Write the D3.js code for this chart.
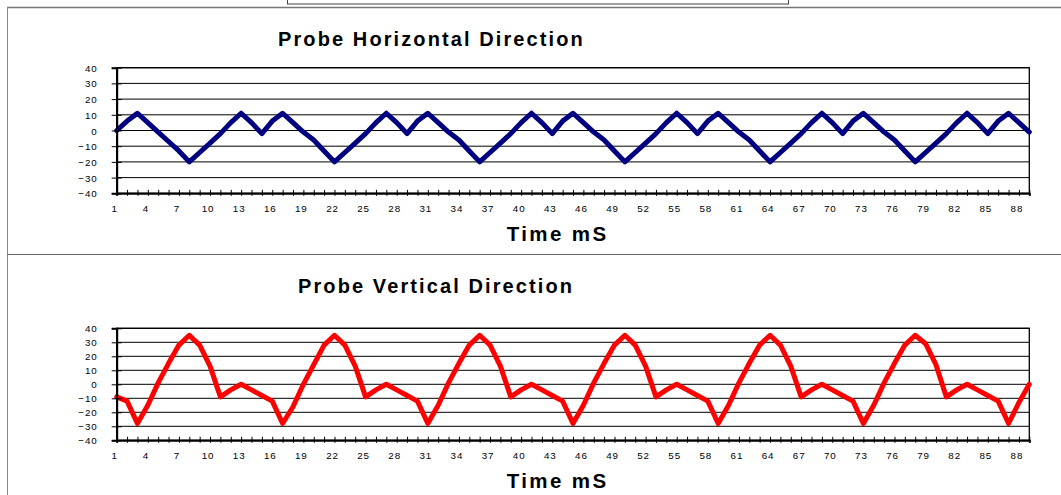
<!DOCTYPE html>
<html>
<head>
<meta charset="utf-8">
<script src="https://cdn.jsdelivr.net/npm/d3@7"></script>
<style>
  body { margin: 0; background: #fff; }
  svg { display: block; font-family: Arial, "Liberation Sans", sans-serif; }
  .tick text { font-size: 9.8px; letter-spacing: 0.9px; fill: #000; }
</style>
</head>
<body>
<svg width="1061" height="495"></svg>
<script>
const width = 1061,
      height = 495;

// time axis, one category per mS
const categories = d3.range(1, 90);
const xLabels = [1, 4, 7, 10, 13, 16, 19, 22, 25, 28, 31, 34, 37, 40, 43, 46, 49, 52, 55, 58, 61, 64, 67, 70, 73, 76, 79, 82, 85, 88];
const yTicks = [-40, -30, -20, -10, 0, 10, 20, 30, 40];

// probe readings
const horizontal = [
  0, 6, 11, 5, -1, -7, -13, -20, -14, -8, -2, 5, 11, 5,
  -2, 6, 11, 5, -1, -6, -13, -20, -14, -8, -2, 5, 11, 5,
  -2, 6, 11, 5, -1, -6, -13, -20, -14, -8, -2, 5, 11, 5,
  -2, 6, 11, 5, -1, -6, -13, -20, -14, -8, -2, 5, 11, 5,
  -2, 6, 11, 5, -1, -6, -13, -20, -14, -8, -2, 5, 11, 5,
  -2, 6, 11, 5, -1, -6, -13, -20, -14, -8, -2, 5, 11, 5,
  -2, 6, 11, 5, -1
];
const vertical = [
  -9, -12, -28, -15, 1, 15, 28, 35, 28, 13, -9, -4, 0, -4,
  -8, -12, -28, -16, 0, 14, 28, 35, 28, 13, -9, -4, 0, -4,
  -8, -12, -28, -15, 1, 15, 28, 35, 28, 13, -9, -4, 0, -4,
  -8, -12, -28, -15, 1, 15, 28, 35, 28, 13, -9, -4, 0, -4,
  -8, -12, -28, -15, 1, 15, 28, 35, 28, 13, -9, -4, 0, -4,
  -8, -12, -28, -15, 1, 15, 28, 35, 29, 14, -9, -4, 0, -4,
  -8, -12, -28, -13, 0
];

const svg = d3.select("svg");

svg.append("rect").attr("width", width).attr("height", height).attr("fill", "#fff");

// frame lines of the sheet
svg.append("rect")
   .attr("x", 287.5).attr("y", -6).attr("width", 501).attr("height", 10)
   .attr("fill", "#fff").attr("stroke", "#404040");
svg.append("line")
   .attr("x1", 7).attr("x2", width).attr("y1", 7.5).attr("y2", 7.5)
   .attr("stroke", "#777").attr("stroke-width", 1.5);
svg.append("line")
   .attr("x1", 7.5).attr("x2", 7.5).attr("y1", 7).attr("y2", height)
   .attr("stroke", "#888");
svg.append("line")
   .attr("x1", 7).attr("x2", width).attr("y1", 254.5).attr("y2", 254.5)
   .attr("stroke", "#666");

const panels = [
  {title: "Probe Horizontal Direction", values: horizontal, color: "#000080",
   top: 67.7, bottom: 193.3, titleX: 278, titleY: 46, axisTitleY: 241},
  {title: "Probe Vertical Direction", values: vertical, color: "#ff0000",
   top: 328.3, bottom: 440.3, titleX: 298, titleY: 292.7, axisTitleY: 488.3}
];

const left = 116.7, right = 1029.3;

panels.forEach((p) => {
  const x = d3.scaleLinear()
              .domain([categories[0], categories[categories.length - 1]])
              .range([left, right]);
  const y = d3.scaleLinear()
              .domain([-40, 40])
              .range([p.bottom, p.top]);

  const g = svg.append("g");

  // gridlines
  g.append("g")
    .selectAll("line")
    .data(yTicks)
    .enter().append("line")
    .attr("x1", left).attr("x2", right)
    .attr("y1", (d) => y(d)).attr("y2", (d) => y(d))
    .attr("stroke", "#000").attr("stroke-width", 1);

  // plot frame
  g.append("rect")
    .attr("x", left).attr("y", p.top)
    .attr("width", right - left).attr("height", p.bottom - p.top)
    .attr("fill", "none").attr("stroke", "#000").attr("stroke-width", 1.3);

  // series
  const line = d3.line()
                 .x((d, i) => x(categories[i]))
                 .y((d) => y(d));
  g.append("path")
    .datum(p.values)
    .attr("d", line)
    .attr("fill", "none")
    .attr("stroke", p.color)
    .attr("stroke-width", 5)
    .attr("stroke-linejoin", "round")
    .attr("stroke-linecap", "round");

  // y axis
  const yAxis = g.append("g")
    .attr("transform", "translate(" + left + ",0)")
    .call(d3.axisLeft(y).tickValues(yTicks).tickSize(5).tickPadding(14));
  yAxis.select(".domain").attr("stroke", "#000").attr("stroke-width", 2);
  yAxis.selectAll(".tick line").attr("x1", 5).attr("stroke", "#000");
  yAxis.selectAll(".tick text").attr("dy", "0.36em").attr("font-family", null).attr("font-size", null);

  // x axis
  const xAxis = g.append("g")
    .attr("transform", "translate(0," + p.bottom + ")")
    .call(d3.axisBottom(x)
            .tickValues(categories)
            .tickSize(2.5)
            .tickFormat((d) => xLabels.includes(d) ? d : ""));
  xAxis.select(".domain").attr("stroke", "#000").attr("stroke-width", 2);
  xAxis.selectAll(".tick line").attr("y1", -3.5).attr("stroke", "#000");
  xAxis.selectAll(".tick text")
    .attr("y", 18.7).attr("dy", 0).attr("dx", -2.5)
    .attr("font-family", null).attr("font-size", null);

  // titles
  svg.append("text")
    .attr("x", p.titleX).attr("y", p.titleY)
    .attr("font-size", "20px").attr("font-weight", "bold")
    .attr("letter-spacing", "2.1px")
    .text(p.title);

  svg.append("text")
    .attr("x", 506.7).attr("y", p.axisTitleY)
    .attr("font-size", "20.5px").attr("font-weight", "bold")
    .attr("letter-spacing", "2.4px")
    .text("Time mS");
});
</script>
</body>
</html>
